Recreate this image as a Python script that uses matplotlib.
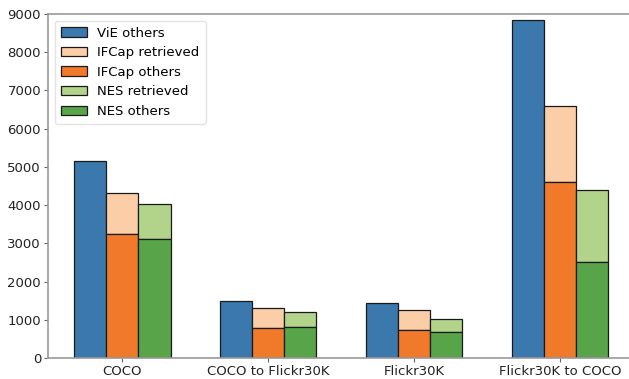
import numpy as np
import matplotlib
matplotlib.use("Agg")
import matplotlib.pyplot as plt

categories = ["COCO", "COCO to Flickr30K", "Flickr30K", "Flickr30K to COCO"]
vie_others = [5160, 1500, 1450, 8850]
ifcap_others = [3240, 790, 740, 4610]
ifcap_retrieved = [1080, 530, 520, 1990]
nes_others = [3120, 820, 670, 2510]
nes_retrieved = [900, 380, 350, 1880]

c_blue = "#3b78ae"
c_orange = "#f07a2a"
c_orange_light = "#fbcea8"
c_green = "#57a548"
c_green_light = "#b2d38a"

fig = plt.figure(figsize=(6.29, 3.79), dpi=100)
# axes run slightly past the right edge of the canvas
ax = fig.add_axes([0.0763, 0.0554, 0.930, 0.9077])

x = np.arange(len(categories))
w = 0.22
ek = dict(edgecolor="#1a1a1a", linewidth=0.9)

ax.bar(x - w, vie_others, w, color=c_blue, label="ViE others", **ek)
ax.bar(x, ifcap_retrieved, w, bottom=ifcap_others, color=c_orange_light,
       label="IFCap retrieved", **ek)
ax.bar(x, ifcap_others, w, color=c_orange, label="IFCap others", **ek)
ax.bar(x + w, nes_retrieved, w, bottom=nes_others, color=c_green_light,
       label="NES retrieved", **ek)
ax.bar(x + w, nes_others, w, color=c_green, label="NES others", **ek)

ax.set_xticks(x)
ax.set_xticklabels(categories)
ax.set_xlim(-0.51, 3.50)
ax.set_ylim(0, 9000)
ax.set_yticks(np.arange(0, 9001, 1000))

for s in ax.spines.values():
    s.set_color("#999999")
    s.set_linewidth(1.2)
ax.tick_params(axis="both", labelsize=9.5, labelcolor="#222222", length=3,
               width=0.8, color="#666666", pad=2)

ax.legend(loc="upper left", fontsize=9.5, frameon=True, framealpha=0.8,
          edgecolor="#dddddd", borderpad=0.45, labelspacing=0.5,
          handlelength=2.0)

fig.savefig("out.png", dpi=100)
